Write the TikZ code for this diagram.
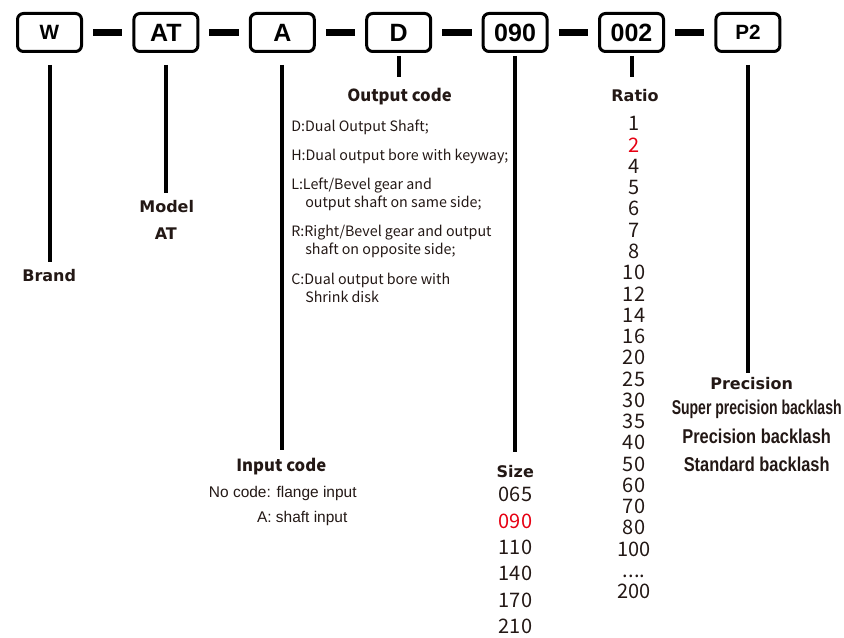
\documentclass[tikz,border=0pt]{standalone}
\usepackage{fontspec}
\usepackage{graphicx}
\setmainfont{Liberation Sans}
\newfontfamily\titlefont{DejaVu Sans}
\newfontfamily\cjkfont{Noto Sans CJK SC}
\newfontfamily\narrowfont[FakeStretch=0.82]{Liberation Sans}
\usetikzlibrary{positioning}
\definecolor{ink}{HTML}{231815}
\definecolor{codered}{HTML}{E60012}

\begin{document}
\begin{tikzpicture}[x=0.75pt,y=-0.75pt,node distance=87.3pt,on grid,
    codebox/.style={draw,line width=2.25pt,rounded corners=4.5pt,minimum width=48pt,minimum height=28.5pt,inner sep=0pt,font=\bfseries\fontsize{18.75}{20}\selectfont},
    smallcode/.style={font=\bfseries\fontsize{15.5}{17}\selectfont},
    bar/.style={line width=5.25pt,shorten <=7.5pt,shorten >=7.5pt},
    wire/.style={line width=3pt},
    title/.style={anchor=base,inner sep=0pt,text height=9pt,text depth=0pt,text=ink,font=\titlefont\bfseries\fontsize{12}{14}\selectfont},
    subtitle/.style={title,font=\cjkfont\bfseries\fontsize{12.5}{14}\selectfont},
    plain/.style={anchor=base,inner sep=0pt,text=ink},
    numlist/.style={anchor=north,inner sep=0pt,align=center,text=ink}]
  \useasboundingbox (0,0) rectangle (844,638);

  % code boxes
  \node[codebox,smallcode] (w) at (49.5,32.5) {W};
  \node[codebox] (at) [right=of w] {AT};
  \node[codebox] (a) [right=of at] {A};
  \node[codebox] (d) [right=of a] {D};
  \node[codebox] (sizebox) [right=of d] {090};
  \node[codebox] (ratiobox) [right=of sizebox] {002};
  \node[codebox,smallcode] (pbox) [right=of ratiobox] {P2};
  \path[bar]
    (w) edge (at)
    (at) edge (a)
    (a) edge (d)
    (d) edge (sizebox)
    (sizebox) edge (ratiobox)
    (ratiobox) edge (pbox);

  % brand and model
  \node[title] (brand) at (49.2,281.7) {Brand};
  \node[title] (model) at (166.7,212.7) {Model};
  \node[title] (modelat) at (165.8,239.3) {AT};

  % input code
  \node[subtitle] (incode) at (281.3,471.7) {Input code};
  \node[plain,font=\fontsize{11.6}{14}\selectfont] (nocode) at (282.8,497.3) {No code: flange input};
  \node[plain,font=\fontsize{11.6}{14}\selectfont] (shaftin) at (302.2,522.3) {A: shaft input};

  % output code
  \node[subtitle] (outcode) at (399.5,101.7) {Output code};
  \node[anchor=north west,inner sep=0pt,align=left,text=ink,font=\cjkfont\fontsize{10.7}{13.5}\selectfont] (outlist) at (291,119.5)
    {D:Dual Output Shaft;\\[8.4pt]
     H:Dual output bore with keyway;\\[8.4pt]
     L:Left/Bevel gear and\\
     \hspace*{10.5pt}output shaft on same side;\\[8.4pt]
     R:Right/Bevel gear and output\\
     \hspace*{10.5pt}shaft on opposite side;\\[8.4pt]
     C:Dual output bore with\\
     \hspace*{10.5pt}Shrink disk};

  % size
  \node[title] (size) at (515.3,477.3) {Size};
  \node[numlist,font=\cjkfont\fontsize{15}{19.8}\selectfont] (sizelist) at (515.5,486.9)
    {065\\\textcolor{codered}{090}\\110\\140\\170\\210};

  % ratio
  \node[title] (ratio) at (635,101.7) {Ratio};
  \node[numlist,font=\cjkfont\fontsize{15}{15.95}\selectfont] (ratiolist) at (634,116.4)
    {1\\\textcolor{codered}{2}\\4\\5\\6\\7\\8\\10\\12\\14\\16\\20\\25\\30\\35\\40\\50\\60\\70\\80\\100\\....\\200};

  % precision
  \node[title] (prec) at (751.7,390) {Precision};
  \node[plain,font=\narrowfont\bfseries\fontsize{15}{17}\selectfont] (superb) at (756.7,415) {\scalebox{0.855}[1]{Super precision backlash}};
  \node[plain,font=\narrowfont\bfseries\fontsize{15}{17}\selectfont] (precb) at (756.7,443.3) {Precision backlash};
  \node[plain,font=\narrowfont\bfseries\fontsize{15}{17}\selectfont] (stdb) at (756.7,471.7) {Standard backlash};

  % leader lines
  \draw[wire,shorten <=9pt,shorten >=5.8pt] (w.south) -- (w.south |- brand.north);
  \draw[wire,shorten <=9pt,shorten >=5.8pt] (at.south) -- (at.south |- model.north);
  \draw[wire,shorten <=9pt,shorten >=7.3pt] (a.south) -- (a.south |- incode.north);
  \draw[wire,shorten <=2.25pt,shorten >=9.5pt] (d.south) -- (d.south |- outcode.north);
  \draw[wire,shorten <=2.25pt,shorten >=10pt] (sizebox.south) -- (sizebox.south |- size.north);
  \draw[wire,shorten <=2.25pt,shorten >=9.5pt] (ratiobox.south) -- (ratiobox.south |- ratio.north);
  \draw[wire,shorten <=9pt,shorten >=3.75pt] (pbox.south) -- (pbox.south |- prec.north);
\end{tikzpicture}
\end{document}
